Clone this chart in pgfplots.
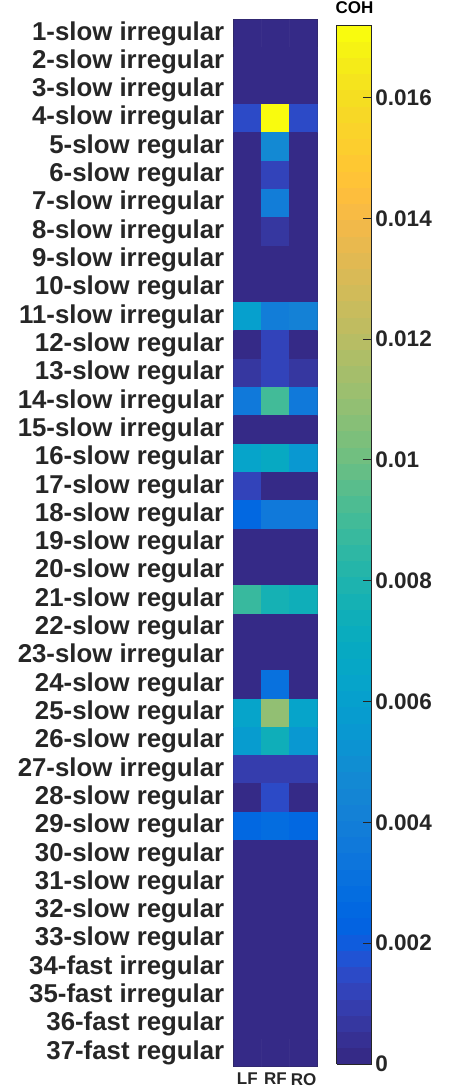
\documentclass[border=0pt]{standalone}
\usepackage{pgfplots}
\pgfplotsset{compat=1.18}
\usepackage{fontspec}
\setmainfont{Liberation Sans}
\definecolor{axgray}{RGB}{38,38,38}
\pgfplotsset{
colormap={parula}{
rgb=(0.2081,0.1663,0.5292) rgb=(0.2116,0.1898,0.5777) rgb=(0.2123,0.2138,0.6270) rgb=(0.2081,0.2386,0.6771)
rgb=(0.1959,0.2645,0.7279) rgb=(0.1707,0.2919,0.7792) rgb=(0.1253,0.3242,0.8303) rgb=(0.0591,0.3598,0.8683)
rgb=(0.0117,0.3875,0.8820) rgb=(0.0060,0.4086,0.8828) rgb=(0.0165,0.4266,0.8786) rgb=(0.0329,0.4430,0.8720)
rgb=(0.0498,0.4586,0.8641) rgb=(0.0629,0.4737,0.8554) rgb=(0.0723,0.4887,0.8467) rgb=(0.0779,0.5040,0.8384)
rgb=(0.0793,0.5200,0.8312) rgb=(0.0749,0.5375,0.8263) rgb=(0.0641,0.5570,0.8240) rgb=(0.0488,0.5772,0.8228)
rgb=(0.0343,0.5966,0.8199) rgb=(0.0265,0.6137,0.8135) rgb=(0.0239,0.6287,0.8038) rgb=(0.0231,0.6418,0.7913)
rgb=(0.0228,0.6535,0.7768) rgb=(0.0267,0.6642,0.7607) rgb=(0.0384,0.6743,0.7436) rgb=(0.0590,0.6838,0.7254)
rgb=(0.0843,0.6928,0.7062) rgb=(0.1133,0.7015,0.6859) rgb=(0.1453,0.7098,0.6646) rgb=(0.1801,0.7177,0.6424)
rgb=(0.2178,0.7250,0.6193) rgb=(0.2586,0.7317,0.5954) rgb=(0.3022,0.7376,0.5712) rgb=(0.3482,0.7424,0.5473)
rgb=(0.3953,0.7459,0.5244) rgb=(0.4420,0.7481,0.5033) rgb=(0.4871,0.7491,0.4840) rgb=(0.5300,0.7491,0.4661)
rgb=(0.5709,0.7485,0.4494) rgb=(0.6099,0.7473,0.4337) rgb=(0.6473,0.7456,0.4188) rgb=(0.6834,0.7435,0.4044)
rgb=(0.7184,0.7411,0.3905) rgb=(0.7525,0.7384,0.3768) rgb=(0.7858,0.7356,0.3633) rgb=(0.8185,0.7327,0.3498)
rgb=(0.8507,0.7299,0.3360) rgb=(0.8824,0.7274,0.3217) rgb=(0.9139,0.7258,0.3063) rgb=(0.9450,0.7261,0.2886)
rgb=(0.9739,0.7314,0.2666) rgb=(0.9938,0.7455,0.2403) rgb=(0.9990,0.7653,0.2164) rgb=(0.9955,0.7861,0.1967)
rgb=(0.9880,0.8066,0.1794) rgb=(0.9789,0.8271,0.1633) rgb=(0.9697,0.8481,0.1475) rgb=(0.9626,0.8705,0.1309)
rgb=(0.9589,0.8949,0.1132) rgb=(0.9598,0.9218,0.0948) rgb=(0.9661,0.9514,0.0755) rgb=(0.9763,0.9831,0.0538)
}}
\pgfplotstableread{
x y c
0 1 0
1 1 0
2 1 0
0 2 0
1 2 0
2 2 0
0 3 0
1 3 0
2 3 0
0 4 0.0014
1 4 0.0172
2 4 0.0014
0 5 0
1 5 0.0046
2 5 0
0 6 0
1 6 0.0011
2 6 0
0 7 0
1 7 0.0038
2 7 0
0 8 0
1 8 0.0006
2 8 0
0 9 0
1 9 0
2 9 0
0 10 0
1 10 0
2 10 0
0 11 0.0060
1 11 0.0038
2 11 0.0041
0 12 0.0001
1 12 0.0011
2 12 0.0001
0 13 0.0008
1 13 0.0011
2 13 0.0008
0 14 0.0036
1 14 0.0091
2 14 0.0036
0 15 0
1 15 0
2 15 0
0 16 0.0064
1 16 0.0068
2 16 0.0055
0 17 0.0011
1 17 0
2 17 0
0 18 0.0025
1 18 0.0037
2 18 0.0036
0 19 0
1 19 0
2 19 0
0 20 0
1 20 0
2 20 0
0 21 0.0088
1 21 0.0076
2 21 0.0074
0 22 0
1 22 0
2 22 0
0 23 0
1 23 0
2 23 0
0 24 0
1 24 0.0031
2 24 0
0 25 0.0064
1 25 0.0109
2 25 0.0062
0 26 0.0058
1 26 0.0074
2 26 0.0054
0 27 0.0009
1 27 0.0009
2 27 0.0009
0 28 0.0001
1 28 0.0014
2 28 0.0001
0 29 0.0026
1 29 0.0027
2 29 0.0026
0 30 0
1 30 0
2 30 0
0 31 0
1 31 0
2 31 0
0 32 0
1 32 0
2 32 0
0 33 0
1 33 0
2 33 0
0 34 0
1 34 0
2 34 0
0 35 0
1 35 0
2 35 0
0 36 0
1 36 0
2 36 0
0 37 0
1 37 0
2 37 0
}\cohdata
\begin{document}
\begin{tikzpicture}
\begin{axis}[
  name=main,
  scale only axis,
  width=84.4pt, height=1047.4pt,
  xmin=-0.5, xmax=2.5, ymin=0.5, ymax=37.5,
  y dir=reverse,
  colormap name=parula,
  colormap access=piecewise constant,
  point meta min=0, point meta max=0.0172,
  axis line style={axgray, line width=0.9pt},
  tick style={axgray, line width=0.9pt},
  tick align=inside,
  major tick length=10pt,
  xtick={0,1,2}, xticklabels={LF,RF,RO},
  ytick={1,...,37},
  yticklabels={1-slow irregular,2-slow irregular,3-slow irregular,4-slow irregular,5-slow regular,6-slow regular,7-slow irregular,8-slow irregular,9-slow irregular,10-slow regular,11-slow irregular,12-slow regular,13-slow regular,14-slow irregular,15-slow irregular,16-slow regular,17-slow regular,18-slow regular,19-slow regular,20-slow regular,21-slow regular,22-slow regular,23-slow irregular,24-slow regular,25-slow regular,26-slow regular,27-slow irregular,28-slow regular,29-slow regular,30-slow regular,31-slow regular,32-slow regular,33-slow regular,34-fast irregular,35-fast irregular,36-fast regular,37-fast regular},
  yticklabel style={font=\bfseries\fontsize{25.8}{25.8}\selectfont, text=axgray, xshift=-5.5pt},
  xticklabel style={font=\bfseries\fontsize{17}{17}\selectfont, text=axgray, yshift=-3pt},
  colorbar right,
  colorbar style={
    at={(parent axis.north east)}, anchor=north west,
    xshift=10.7pt, yshift=-5.7pt,
    scale only axis,
    width=35pt, height=1039pt,
    ytick={0,0.002,0.004,0.006,0.008,0.01,0.012,0.014,0.016},
    yticklabels={0,0.002,0.004,0.006,0.008,0.01,0.012,0.014,0.016},
    ytick pos=right, yticklabel pos=right,
    tick align=inside,
    major tick length=9pt,
    axis line style={axgray, line width=0.9pt},
    tick style={axgray, line width=0.9pt},
    yticklabel style={font=\bfseries\fontsize{22.5}{22.5}\selectfont, text=axgray, /pgf/number format/assume math mode=true},
    title={\smash{COH}},
    title style={font=\bfseries\fontsize{17}{17}\selectfont, at={(0.5,1)}, anchor=base, inner sep=0pt, yshift=5pt},
  },
]
\addplot[matrix plot*, mesh/cols=3, point meta=explicit] table[x=x, y=y, meta=c] {\cohdata};
\end{axis}
\pgfresetboundingbox
\path[use as bounding box] ([xshift=-233.3pt,yshift=-24.3pt]main.south west) rectangle ([xshift=215.7pt,yshift=19.3pt]main.north west);
\end{tikzpicture}
\end{document}
